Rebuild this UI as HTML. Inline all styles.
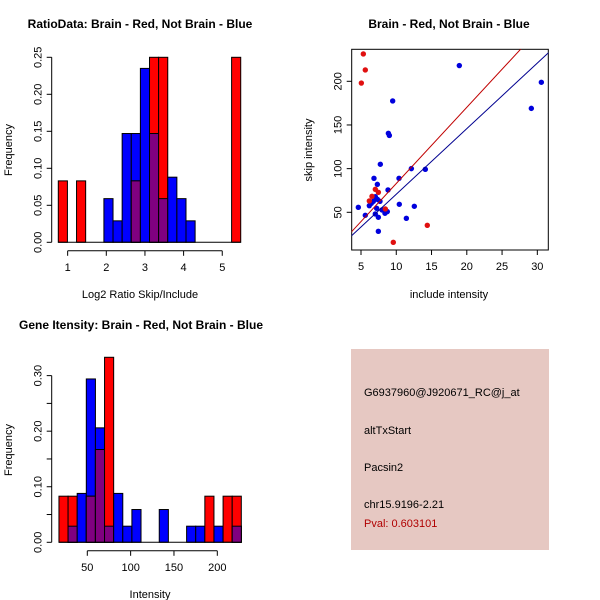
<!DOCTYPE html>
<html><head><meta charset="utf-8"><style>
body{margin:0;background:#fff}
svg{display:block;font-family:"Liberation Sans",sans-serif}
</style></head><body>
<svg id="c" width="600" height="600" viewBox="0 0 600 600">
<rect width="600" height="600" fill="#fff"/>
<text x="140" y="28" font-size="12" font-weight="bold" text-anchor="middle">RatioData: Brain - Red, Not Brain - Blue</text>
<text x="449" y="28" font-size="12" font-weight="bold" text-anchor="middle">Brain - Red, Not Brain - Blue</text>
<text x="141" y="329" font-size="12" font-weight="bold" text-anchor="middle">Gene Itensity: Brain - Red, Not Brain - Blue</text>
<text x="140" y="298" font-size="11" text-anchor="middle">Log2 Ratio Skip/Include</text>
<text x="12" y="150" font-size="11" text-anchor="middle" transform="rotate(-90 12 150)">Frequency</text>
<text x="449" y="298" font-size="11" text-anchor="middle">include intensity</text>
<text x="312" y="150" font-size="11" text-anchor="middle" transform="rotate(-90 312 150)">skip intensity</text>
<text x="150" y="598" font-size="11" text-anchor="middle">Intensity</text>
<text x="12" y="450" font-size="11" text-anchor="middle" transform="rotate(-90 12 450)">Frequency</text>
<g>
<rect x="351" y="349" width="198" height="201" fill="#e6c8c2"/>
<text x="364" y="396" font-size="11">G6937960@J920671_RC@j_at</text>
<text x="364" y="434" font-size="11">altTxStart</text>
<text x="364" y="471" font-size="11">Pacsin2</text>
<text x="364" y="508" font-size="11">chr15.9196-2.21</text>
<text x="364" y="527" font-size="11" fill="#b00000">Pval: 0.603101</text>
</g>
<g id="h1"></g><g id="sc"></g><g id="h2"></g>
</svg>
<script>
// Ratio histogram
const h1Start = 0.758, h1Width = 0.236;
const h1Blue = [0,0,0,0,0,0.059,0.029,0.147,0.147,0.235,0.147,0.059,0.088,0.059,0.029,0,0,0,0,0];
const h1Red  = [0.083,0,0.083,0,0,0,0,0,0.083,0,0.25,0.25,0,0,0,0,0,0,0,0.25];
const h1XTicks = [1,2,3,4,5];
const h1YTicks = ["0.00","0.05","0.10","0.15","0.20","0.25"];
// Intensity histogram
const h2Start = 17.3, h2Width = 10.52;
const h2Blue = [0,0.029,0.088,0.294,0.206,0.029,0.088,0.029,0.059,0,0,0.059,0,0,0.029,0.029,0,0.029,0,0.029];
const h2Red  = [0.083,0.083,0,0.083,0.167,0.333,0,0,0,0,0,0,0,0,0,0,0.083,0,0.083,0.083];
const h2XTicks = [50,100,150,200];
const h2YTicks = [0,0.05,0.10,0.15,0.20,0.25,0.30];
const h2YLabels = ["0.00","","0.10","","0.20","","0.30"];
// Scatter
const redX = [5.33,5.61,5.05,7.03,7.46,6.56,6.18,9.58,14.4,8.45];
const redY = [231.3,213,198,76.3,72.9,68.3,63,15.6,35.1,53.8];
const blueX = [4.62,5.61,6.18,6.84,7.32,7.74,9.49,8.88,9.02,18.94,30.57,29.15,14.12,12.14,10.39,10.43,12.56,11.43,7.46,7.46,7.03,7.22,7.69,7.32,6.75,6.46,8.26,8.73,8.4,7.98,7.03,8.83];
const blueY = [55.7,46.6,57.6,88.9,82,105,177.5,140.5,138,218,198.9,169,99.2,100,88.9,59.2,56.9,43.1,28.2,44.3,48.1,54.6,62.6,64.9,62.6,60.3,52.7,50.8,48.9,52.7,67.9,75.6];
const redFit = [-4.2, 8.72];
const blueFit = [-4.4, 7.51];
const scXTicks = [5,10,15,20,25,30];
const scYTicks = [50,100,150,200];

const NS="http://www.w3.org/2000/svg";
function mk(p,t,a){const e=document.createElementNS(NS,t);for(const k in a)e.setAttribute(k,a[k]);p.appendChild(e);return e;}

function hist(g,start,w,blue,red,xs,ys,yl,ax,gname){
  const bars=blue.length;
  for(let i=0;i<bars;i++){
    const x0=ax.x(start+i*w), x1=ax.x(start+(i+1)*w);
    const b=blue[i], r=red[i];
    const layers=[];
    if(b>0)layers.push([b,'#0000ff','blue']);
    if(r>0)layers.push([r,'#ff0000','red']);
    if(b>0&&r>0)layers.push([Math.min(b,r),'#800080','overlap']);
    layers.forEach(L=>{
      const e=mk(g,'rect',{x:x0,y:ax.y(L[0]),width:x1-x0,height:ax.y(0)-ax.y(L[0]),fill:L[1],stroke:'#000','stroke-width':1});
      
      
    });
  }
  const base=mk(g,'line',{x1:ax.x(start),x2:ax.x(start+bars*w),y1:ax.y(0),y2:ax.y(0),stroke:'#000'});
  
  
  const xa=mk(g,'g',{});
  
  
  const yA=ax.y(0)+8.5;
  mk(xa,'line',{x1:ax.x(xs[0]),x2:ax.x(xs[xs.length-1]),y1:yA,y2:yA,stroke:'#000'});
  xs.forEach(v=>{mk(xa,'line',{x1:ax.x(v),x2:ax.x(v),y1:yA,y2:yA+5,stroke:'#000'});
    const t=mk(xa,'text',{x:ax.x(v),y:yA+20,'font-size':11,'text-anchor':'middle'});t.textContent=v;});
  const ya=mk(g,'g',{});
  
  
  const xA=ax.ax;
  mk(ya,'line',{x1:xA,x2:xA,y1:ax.y(ys[0]),y2:ax.y(ys[ys.length-1]),stroke:'#000'});
  ys.forEach((v,i)=>{const yy=ax.y(v);mk(ya,'line',{x1:xA-5,x2:xA,y1:yy,y2:yy,stroke:'#000'});
    if(yl[i]){const t=mk(ya,'text',{x:xA-10,y:yy,'font-size':11,'text-anchor':'middle',transform:`rotate(-90 ${xA-10} ${yy})`});t.textContent=yl[i];}});
}
const ax1={x:v=>29+38.65*v,y:v=>242.3-740*v,ax:51.7};
hist(document.getElementById('h1'),h1Start,h1Width,h1Blue,h1Red,h1XTicks,h1YTicks.map(Number),h1YTicks,ax1,'ratio-hist');
const ax2={x:v=>87.3+(v-50)*0.8667,y:v=>542.3-555.6*v,ax:51.7};
hist(document.getElementById('h2'),h2Start,h2Width,h2Blue,h2Red,h2XTicks,h2YTicks,h2YLabels,ax2,'intensity-hist');

const sg=document.getElementById('sc');
const sx=v=>361+(v-5)*7.053, sy=v=>212.3-(v-50)*0.8733;
const L=351.7,R=548.3,T=49.3,B=250;
const fr=mk(sg,'rect',{x:L,y:T,width:R-L,height:B-T,fill:'none',stroke:'#000'});


const cp=mk(sg,'clipPath',{id:'cp'});mk(cp,'rect',{x:L,y:T,width:R-L,height:B-T});
[[blueX,blueY,'#0000dd','blue'],[redX,redY,'#e01010','red']].forEach(S=>{
  S[0].forEach((v,i)=>{const c=mk(sg,'circle',{cx:sx(v),cy:sy(S[1][i]),r:2.7,fill:S[2]});
    
    });
});
[[redFit,'#c00000','red'],[blueFit,'#000090','blue']].forEach(F=>{
  const xa=3,xb=33;
  const l=mk(sg,'line',{x1:sx(xa),y1:sy(F[0][0]+F[0][1]*xa),x2:sx(xb),y2:sy(F[0][0]+F[0][1]*xb),stroke:F[1],'clip-path':'url(#cp)'});
  
  
});
const sxa=mk(sg,'g',{});


scXTicks.forEach(v=>{mk(sxa,'line',{x1:sx(v),x2:sx(v),y1:B,y2:B+5,stroke:'#000'});
  const t=mk(sxa,'text',{x:sx(v),y:B+20,'font-size':11,'text-anchor':'middle'});t.textContent=v;});
const sya=mk(sg,'g',{});


scYTicks.forEach(v=>{const yy=sy(v);mk(sya,'line',{x1:L-5,x2:L,y1:yy,y2:yy,stroke:'#000'});
  const t=mk(sya,'text',{x:L-10,y:yy,'font-size':11,'text-anchor':'middle',transform:`rotate(-90 ${L-10} ${yy})`});t.textContent=v;});
</script>
</body></html>
